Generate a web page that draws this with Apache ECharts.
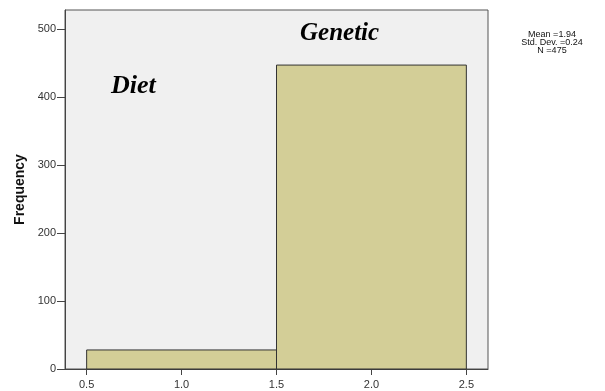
<!DOCTYPE html>
<html><head><meta charset="utf-8">
<script src="https://cdn.jsdelivr.net/npm/echarts@6/dist/echarts.min.js"></script>
<style>html,body{margin:0;padding:0;background:#fff}#c{width:605px;height:391px}</style>
</head><body><div id="c"></div>
<script>
var binStart = [0.5, 1.5];
var binEnd = [1.5, 2.5];
var freq = [28, 447];
var xTicks = [0.5, 1.0, 1.5, 2.0, 2.5];
var yTicks = [0, 100, 200, 300, 400, 500];
var statsLines = ['Mean =1.94', 'Std. Dev. =0.24', 'N =475'];
var annotations = ['Diet', 'Genetic'];

var data = binStart.map(function (s, i) { return [s, binEnd[i], freq[i]]; });
var chart = echarts.init(document.getElementById('c'));
var axisFont = { fontFamily: 'Liberation Sans, Arial', fontSize: 11, color: '#333' };
chart.setOption({
  animation: false,
  grid: { left: 65, top: 10, right: 117, bottom: 22, show: true, backgroundColor: '#F0F0F0', borderColor: '#555', borderWidth: 1 },
  xAxis: {
    type: 'value', min: 0.386, max: 2.614,
    axisLine: { show: true, onZero: false, lineStyle: { color: '#444' } },
    axisTick: { show: true, customValues: xTicks, length: 6, lineStyle: { color: '#444' } },
    axisLabel: Object.assign({ customValues: xTicks, margin: 10, formatter: function (v) { return v.toFixed(1); } }, axisFont),
    splitLine: { show: false }
  },
  yAxis: {
    type: 'value', min: 0, max: 528,
    name: 'Frequency', nameLocation: 'middle', nameGap: 35, nameRotate: 90,
    nameTextStyle: { fontFamily: 'Liberation Sans, Arial', fontSize: 14, fontWeight: 'bold', color: '#111' },
    axisLine: { show: true, lineStyle: { color: '#444' } },
    axisTick: { show: true, customValues: yTicks, length: 8, lineStyle: { color: '#444' } },
    axisLabel: Object.assign({ customValues: yTicks, margin: 9 }, axisFont),
    splitLine: { show: false }
  },
  series: [{
    type: 'custom',
    data: data,
    renderItem: function (params, api) {
      var p0 = api.coord([api.value(0), 0]);
      var p1 = api.coord([api.value(1), api.value(2)]);
      return {
        type: 'rect',
        shape: { x: p0[0], y: p1[1], width: p1[0] - p0[0], height: p0[1] - p1[1] },
        style: { fill: '#D3CE97', stroke: '#333', lineWidth: 1 }
      };
    }
  }],
  graphic: [
    { type: 'text', left: 111, top: 73, style: { text: annotations[0], font: 'italic bold 26px "Liberation Serif", "Times New Roman", serif', fill: '#000' } },
    { type: 'text', left: 300, top: 21, style: { text: annotations[1], font: 'italic bold 25px "Liberation Serif", "Times New Roman", serif', fill: '#000' } },
    { type: 'text', x: 552, y: 31, style: { text: statsLines.join('\n'), align: 'center', font: '9px "Liberation Sans", Arial', lineHeight: 8, fill: '#111' } }
  ]
});
</script></body></html>
